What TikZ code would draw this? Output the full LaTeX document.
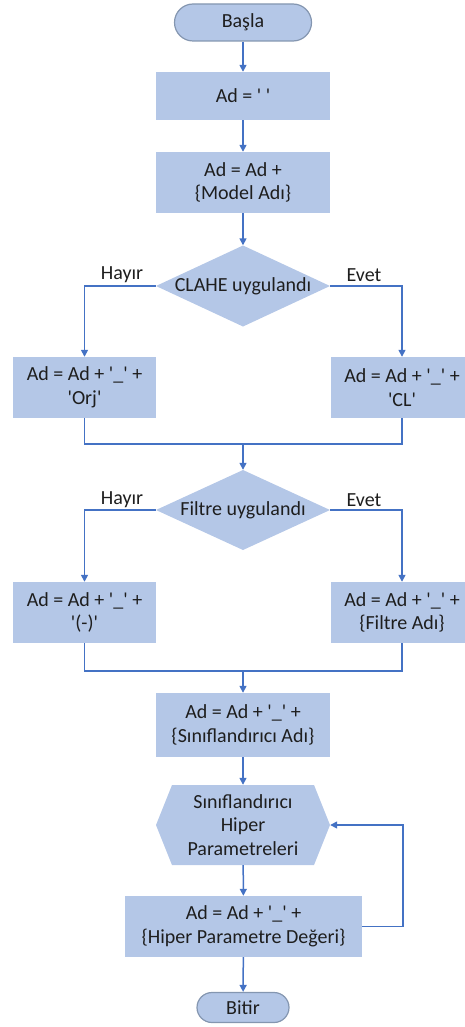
\documentclass[tikz,border=0pt]{standalone}
\usepackage{fontspec}
\newfontfamily\flowfont{Carlito}
\usetikzlibrary{arrows.meta}
\definecolor{boxfill}{HTML}{B4C7E7}
\definecolor{flowline}{HTML}{4472C4}
\definecolor{termline}{HTML}{8496B0}
\definecolor{flowtext}{HTML}{1E1E1E}
\tikzset{
	basebox/.style={inner sep=0pt, text=flowtext, align=center, font=\flowfont\fontsize{20}{23.5}\selectfont},
	procbox/.style={basebox, rectangle, fill=boxfill, minimum height=61pt},
	termbox/.style={basebox, rectangle, rounded corners=15pt, fill=boxfill, draw=termline, line width=1.2pt},
	decbox/.style={basebox, rectangle, minimum width=174pt, minimum height=81pt,
		path picture={\fill[boxfill] (path picture bounding box.west) -- (path picture bounding box.north) -- (path picture bounding box.east) -- (path picture bounding box.south) -- cycle;}},
	hexbox/.style={basebox, rectangle, minimum width=174pt, minimum height=80pt,
		path picture={\fill[boxfill] (path picture bounding box.west) -- ([xshift=16pt]path picture bounding box.north west) -- ([xshift=-16pt]path picture bounding box.north east) -- (path picture bounding box.east) -- ([xshift=-16pt]path picture bounding box.south east) -- ([xshift=16pt]path picture bounding box.south west) -- cycle;}},
	lbl/.style={basebox},
	line/.style={draw=flowline, line width=1.5pt},
	flow/.style={line, -{Triangle[length=7pt,width=7pt]}}
}
\begin{document}
\begin{tikzpicture}[x=1pt, y=-1pt]
	\useasboundingbox (0,0) rectangle (465,1027);
	\node[termbox, minimum width=137pt, minimum height=37pt, rounded corners=18.5pt] (basla) at (243,22.5) {Başla};
	\node[procbox, minimum width=174pt, minimum height=48pt] (bos) at (243,96) {Ad = ' '};
	\node[procbox, minimum width=174pt] (model) at (243,182.5) {Ad = Ad +\\\{Model Adı\}};
	\node[decbox] (clahe) at (243,286) {CLAHE uygulandı};
	\node[lbl] (hayir1) at (122,275) {Hayır};
	\node[lbl] (evet1) at (364,275) {Evet};
	\node[procbox, minimum width=143pt] (orj) at (84.5,387.5) {Ad = Ad + '\_' +\\'Orj'};
	\node[procbox, minimum width=143pt] (cl) at (402,387.5) {Ad = Ad + '\_' +\\'CL'};
	\coordinate (birles1) at (243,444);
	\node[decbox, minimum height=80pt] (filtre) at (243,510) {Filtre uygulandı};
	\node[lbl] (hayir2) at (122,500) {Hayır};
	\node[lbl] (evet2) at (364,500) {Evet};
	\node[procbox, minimum width=143pt] (yok) at (84.5,612.5) {Ad = Ad + '\_' +\\'(-)'};
	\node[procbox, minimum width=143pt] (filtread) at (402,612.5) {Ad = Ad + '\_' +\\\{Filtre Adı\}};
	\coordinate (birles2) at (243,671);
	\node[procbox, minimum width=174pt, minimum height=64pt] (sinif) at (243,725) {Ad = Ad + '\_' +\\\{Sınıflandırıcı Adı\}};
	\node[hexbox] (hiper) at (243,825) {Sınıflandırıcı\\Hiper\\Parametreleri};
	\node[procbox, minimum width=237pt] (deger) at (243.5,926.5) {Ad = Ad + '\_' +\\\{Hiper Parametre Değeri\}};
	\coordinate (donus) at (403,926.5);
	\node[termbox, minimum width=92pt, minimum height=30pt] (bitir) at (243,1007.5) {Bitir};
	\draw[flow] (basla) -- (bos);
	\draw[flow] (bos) -- (model);
	\draw[flow] (model) -- (clahe);
	\draw[flow] (clahe.west) -| (orj.north);
	\draw[flow] (clahe.east) -| (cl.north);
	\draw[line] (orj.south) |- (birles1) -| (cl.south);
	\draw[flow] (birles1) -- (filtre.north);
	\draw[flow] (filtre.west) -| (yok.north);
	\draw[flow] (filtre.east) -| (filtread.north);
	\draw[line] (yok.south) |- (birles2) -| (filtread.south);
	\draw[flow] (birles2) -- (sinif.north);
	\draw[flow] (sinif) -- (hiper);
	\draw[flow] (hiper) -- (deger);
	\draw[flow] (deger.east) -- (donus) |- (hiper.east);
	\draw[flow] (deger) -- (bitir);
\end{tikzpicture}
\end{document}
